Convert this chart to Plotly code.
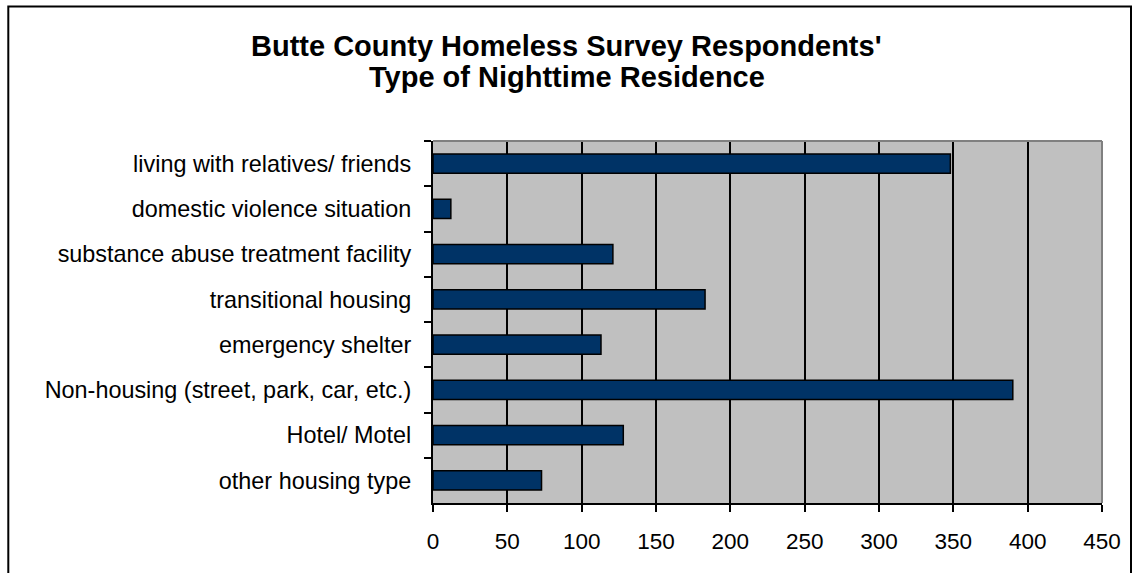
import plotly.graph_objects as go

categories = [
    "living with relatives/ friends",
    "domestic violence situation",
    "substance abuse treatment facility",
    "transitional housing",
    "emergency shelter",
    "Non-housing (street, park, car, etc.)",
    "Hotel/ Motel",
    "other housing type",
]
values = [348, 12, 121, 183, 113, 390, 128, 73]
x_ticks = [0, 50, 100, 150, 200, 250, 300, 350, 400, 450]
title_lines = ["Butte County Homeless Survey Respondents'", "Type of Nighttime Residence"]

W, H = 1133, 573
ML, MR, MT, MB = 433, 31, 141, 70
PW, PH = W - ML - MR, H - MT - MB


def px_x(px):
    return (px - ML) / PW


def px_y(py):
    return (H - MB - py) / PH


FONT = "Arial, 'Liberation Sans', sans-serif"

fig = go.Figure(go.Bar(
    x=values, y=categories, orientation="h",
    marker=dict(color="#003366", line=dict(color="#000000", width=1.5)),
    hoverinfo="x+y",
))

annotations = []
for line, cy in zip(title_lines, [46, 77]):
    annotations.append(dict(
        text="<b>" + line + "</b>", showarrow=False,
        xref="paper", yref="paper", x=px_x(566.5), y=px_y(cy),
        xanchor="center", yanchor="middle",
        font=dict(family=FONT, size=29, color="#000000"),
    ))

fig.update_layout(
    width=W, height=H,
    margin=dict(l=ML, r=MR, t=MT, b=MB, pad=0, autoexpand=False),
    paper_bgcolor="#FFFFFF",
    plot_bgcolor="#C0C0C0",
    bargap=0.58,
    showlegend=False,
    font=dict(family=FONT, color="#000000", size=22),
    annotations=annotations,
    xaxis=dict(
        range=[0, 450], tickvals=x_ticks, ticktext=[str(v) for v in x_ticks],
        showgrid=True, gridcolor="#000000", gridwidth=1.5,
        showline=True, linecolor="#000000", linewidth=2,
        ticks="outside", ticklen=7, tickwidth=2, tickcolor="#000000",
        tickfont=dict(size=22.5), ticklabelstandoff=10,
        zeroline=False, fixedrange=True, automargin=False,
    ),
    yaxis=dict(
        type="category", categoryorder="array", categoryarray=categories,
        autorange="reversed", tickson="boundaries",
        showgrid=False, showline=True, linecolor="#000000", linewidth=2,
        ticks="outside", ticklen=7, tickwidth=2, tickcolor="#000000",
        tickfont=dict(size=23.4), ticklabelstandoff=15,
        fixedrange=True, automargin=False,
    ),
    shapes=[
        dict(type="line", xref="paper", yref="paper", x0=0, x1=1, y0=1, y1=1,
             line=dict(color="#808080", width=2), layer="above"),
        dict(type="line", xref="paper", yref="paper", x0=1, x1=1, y0=0, y1=1,
             line=dict(color="#808080", width=2), layer="above"),
        dict(type="rect", xref="paper", yref="paper",
             x0=px_x(8.3), x1=px_x(1131), y0=px_y(600), y1=px_y(6.5),
             line=dict(color="#000000", width=2), fillcolor="rgba(0,0,0,0)", layer="above"),
    ],
)

fig.write_html(
    "out.html",
    config={"displayModeBar": False},
    post_script="document.body.style.margin='0';document.body.style.overflow='hidden';",
)
